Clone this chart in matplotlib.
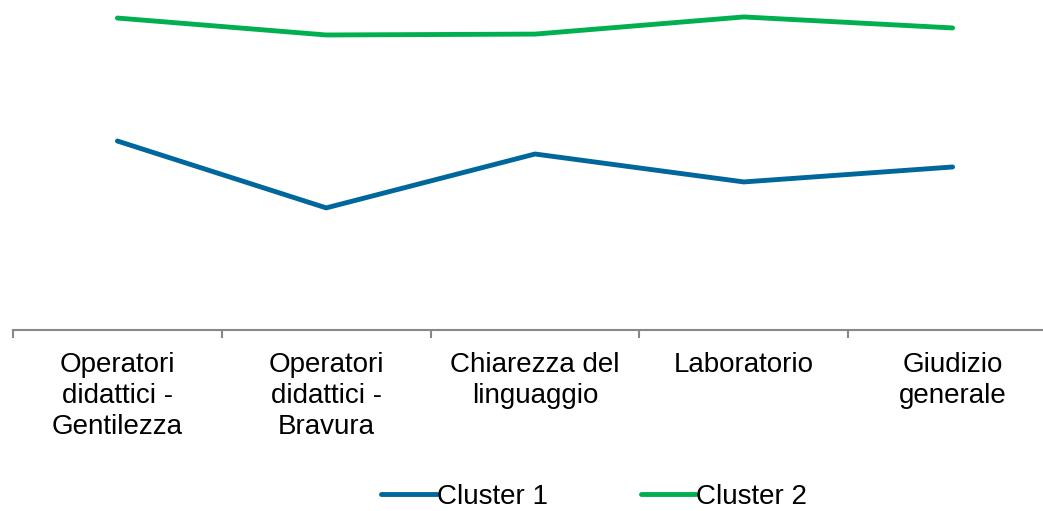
import matplotlib
matplotlib.use("Agg")
import matplotlib.pyplot as plt

categories = ["Operatori\ndidattici -\nGentilezza", "Operatori\ndidattici -\nBravura",
              "Chiarezza del\nlinguaggio", "Laboratorio", "Giudizio\ngenerale"]
cluster1 = [3.359, 3.055, 3.300, 3.173, 3.241]
cluster2 = [3.918, 3.841, 3.845, 3.923, 3.873]
series_names = ["Cluster 1", "Cluster 2"]
colors = ["#00679D", "#00B050"]

plt.rcParams['font.family'] = ['Liberation Sans', 'DejaVu Sans']

fig = plt.figure(figsize=(10.43, 5.11), dpi=100)
W, H = 1043, 511
left_px, right_px, top_px, bottom_px = 13, 1057, 0, 330
ax = fig.add_axes([left_px / W, 1 - bottom_px / H, (right_px - left_px) / W, (bottom_px - top_px) / H])

x = list(range(len(categories)))
for vals, name, c in zip([cluster1, cluster2], series_names, colors):
    ax.plot(x, vals, color=c, lw=3.5, label=name, solid_capstyle='round', solid_joinstyle='round', clip_on=False)

ax.set_xlim(-0.5, len(categories) - 0.5)
ax.set_ylim(2.5, 4.0)
for s in ['top', 'right', 'left']:
    ax.spines[s].set_visible(False)
ax.spines['bottom'].set_color('#888888')
ax.spines['bottom'].set_linewidth(1.5)
ax.set_yticks([])
ax.set_xticks([i - 0.5 for i in range(len(categories) + 1)])
ax.set_xticklabels([])
ax.set_xticks(x, minor=True)
ax.set_xticklabels(categories, minor=True, fontsize=20, va='top', linespacing=1.25)
ax.tick_params(axis='x', which='major', length=6, width=1.5, color='#888888', direction='out')
ax.tick_params(axis='x', which='minor', length=0, pad=16)

leg = fig.legend(loc='center', bbox_to_anchor=(0.565 + 5 / W, 1 - 497 / H), ncol=2, frameon=False,
                 fontsize=20, handlelength=2.0, handletextpad=0.0, columnspacing=3.35,
                 borderaxespad=0, borderpad=0)

fig.savefig("out.png", dpi=100)
